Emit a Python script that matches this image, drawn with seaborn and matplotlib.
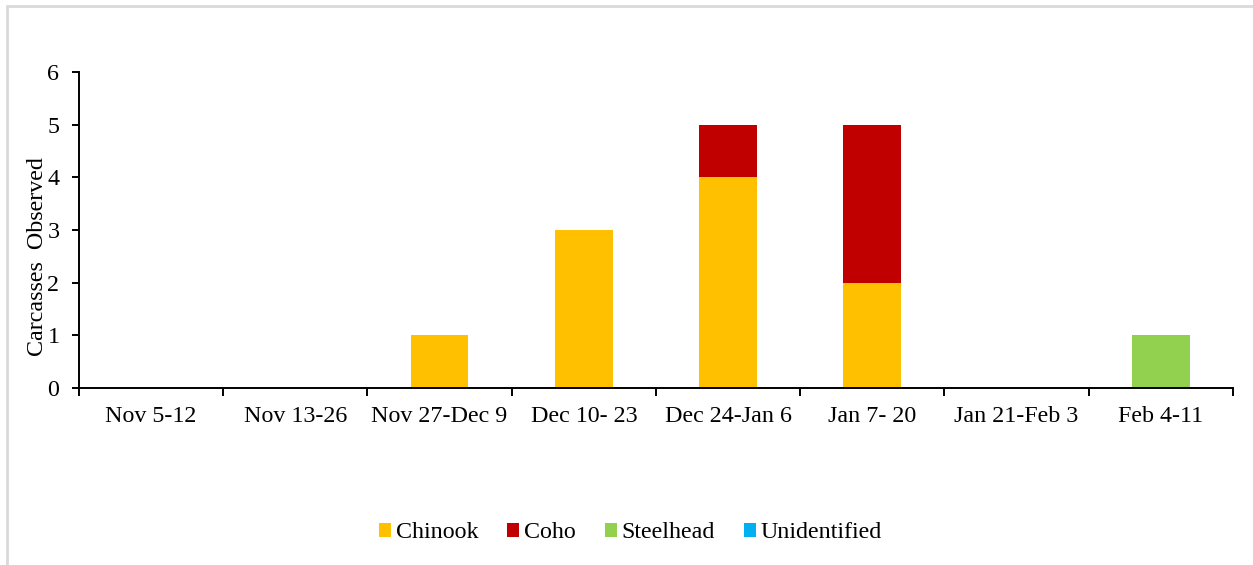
import matplotlib
matplotlib.use("Agg")
import matplotlib.pyplot as plt
from matplotlib.lines import Line2D
from matplotlib.patches import Patch
import seaborn as sns
import pandas as pd
import numpy as np

# Survey periods and carcass counts by species
periods = ["Nov 5-12", "Nov 13-26", "Nov 27-Dec 9", "Dec 10- 23",
           "Dec 24-Jan 6", "Jan 7- 20", "Jan 21-Feb 3", "Feb 4-11"]
chinook = [0, 0, 1, 3, 4, 2, 0, 0]
coho = [0, 0, 0, 0, 1, 3, 0, 0]
steelhead = [0, 0, 0, 0, 0, 0, 0, 1]
unidentified = [0, 0, 0, 0, 0, 0, 0, 0]

species = ["Chinook", "Coho", "Steelhead", "Unidentified"]
colors = ["#FFC000", "#C00000", "#92D050", "#00B0F0"]
y_ticks = [0, 1, 2, 3, 4, 5, 6]

sns.set_theme(style="white")
plt.rcParams["font.family"] = ["Liberation Serif", "DejaVu Serif"]
plt.rcParams["text.color"] = "black"
plt.rcParams["axes.labelcolor"] = "black"
plt.rcParams["xtick.color"] = "black"
plt.rcParams["ytick.color"] = "black"

FS = 17.3
LW = 1.4

fig = plt.figure(figsize=(12.53, 5.65), dpi=100)
ax = fig.add_axes([0.063, 0.3133, 0.921, 0.5593])

# Stacked bars: draw cumulative totals from the top series downward
series = [chinook, coho, steelhead, unidentified]
cum = np.cumsum(np.array(series), axis=0)
for i in range(len(series) - 1, -1, -1):
    df = pd.DataFrame({"period": periods, "count": cum[i]})
    sns.barplot(data=df, x="period", y="count", color=colors[i],
                width=0.4, saturation=1, ax=ax, linewidth=0)

ax.set_ylim(0, 6)
ax.set_xlim(-0.5, len(periods) - 0.5)
ax.set_yticks(y_ticks)
ax.set_yticklabels([str(v) for v in y_ticks], fontsize=FS)
ax.set_xticks(range(len(periods)))
ax.set_xticklabels(periods, fontsize=FS)
ax.set_xlabel("")
ax.set_ylabel("Carcasses  Observed", fontsize=FS)
ax.yaxis.set_label_coords(-0.027, 0.415)

# Category boundary ticks on x axis
ax.set_xticks(np.arange(-0.5, len(periods), 1.0), minor=True)
ax.tick_params(axis="x", which="major", length=0, pad=13)
ax.tick_params(axis="x", which="minor", length=5.5, width=LW, direction="out",
               bottom=True)
ax.tick_params(axis="y", which="major", length=5, width=LW, direction="out",
               left=True, pad=9)

for side in ["top", "right"]:
    ax.spines[side].set_visible(False)
for side in ["left", "bottom"]:
    ax.spines[side].set_color("black")
    ax.spines[side].set_linewidth(LW)
ax.grid(False)

handles = [Patch(facecolor=c, edgecolor="none") for c in colors]
fig.legend(handles, species, loc="center", bbox_to_anchor=(0.503, 0.057),
           ncol=4, frameon=False, fontsize=FS, handlelength=0.5,
           handleheight=0.5, handletextpad=0.2, columnspacing=1.2)

# Light outer frame
fig.add_artist(Line2D([0.0055, 1.0], [0.990, 0.990], color="#D9D9D9",
                      linewidth=2, transform=fig.transFigure))
fig.add_artist(Line2D([0.0055, 0.0055], [0.0, 0.990], color="#D9D9D9",
                      linewidth=2, transform=fig.transFigure))

fig.savefig("out.png", dpi=100, facecolor="white")
